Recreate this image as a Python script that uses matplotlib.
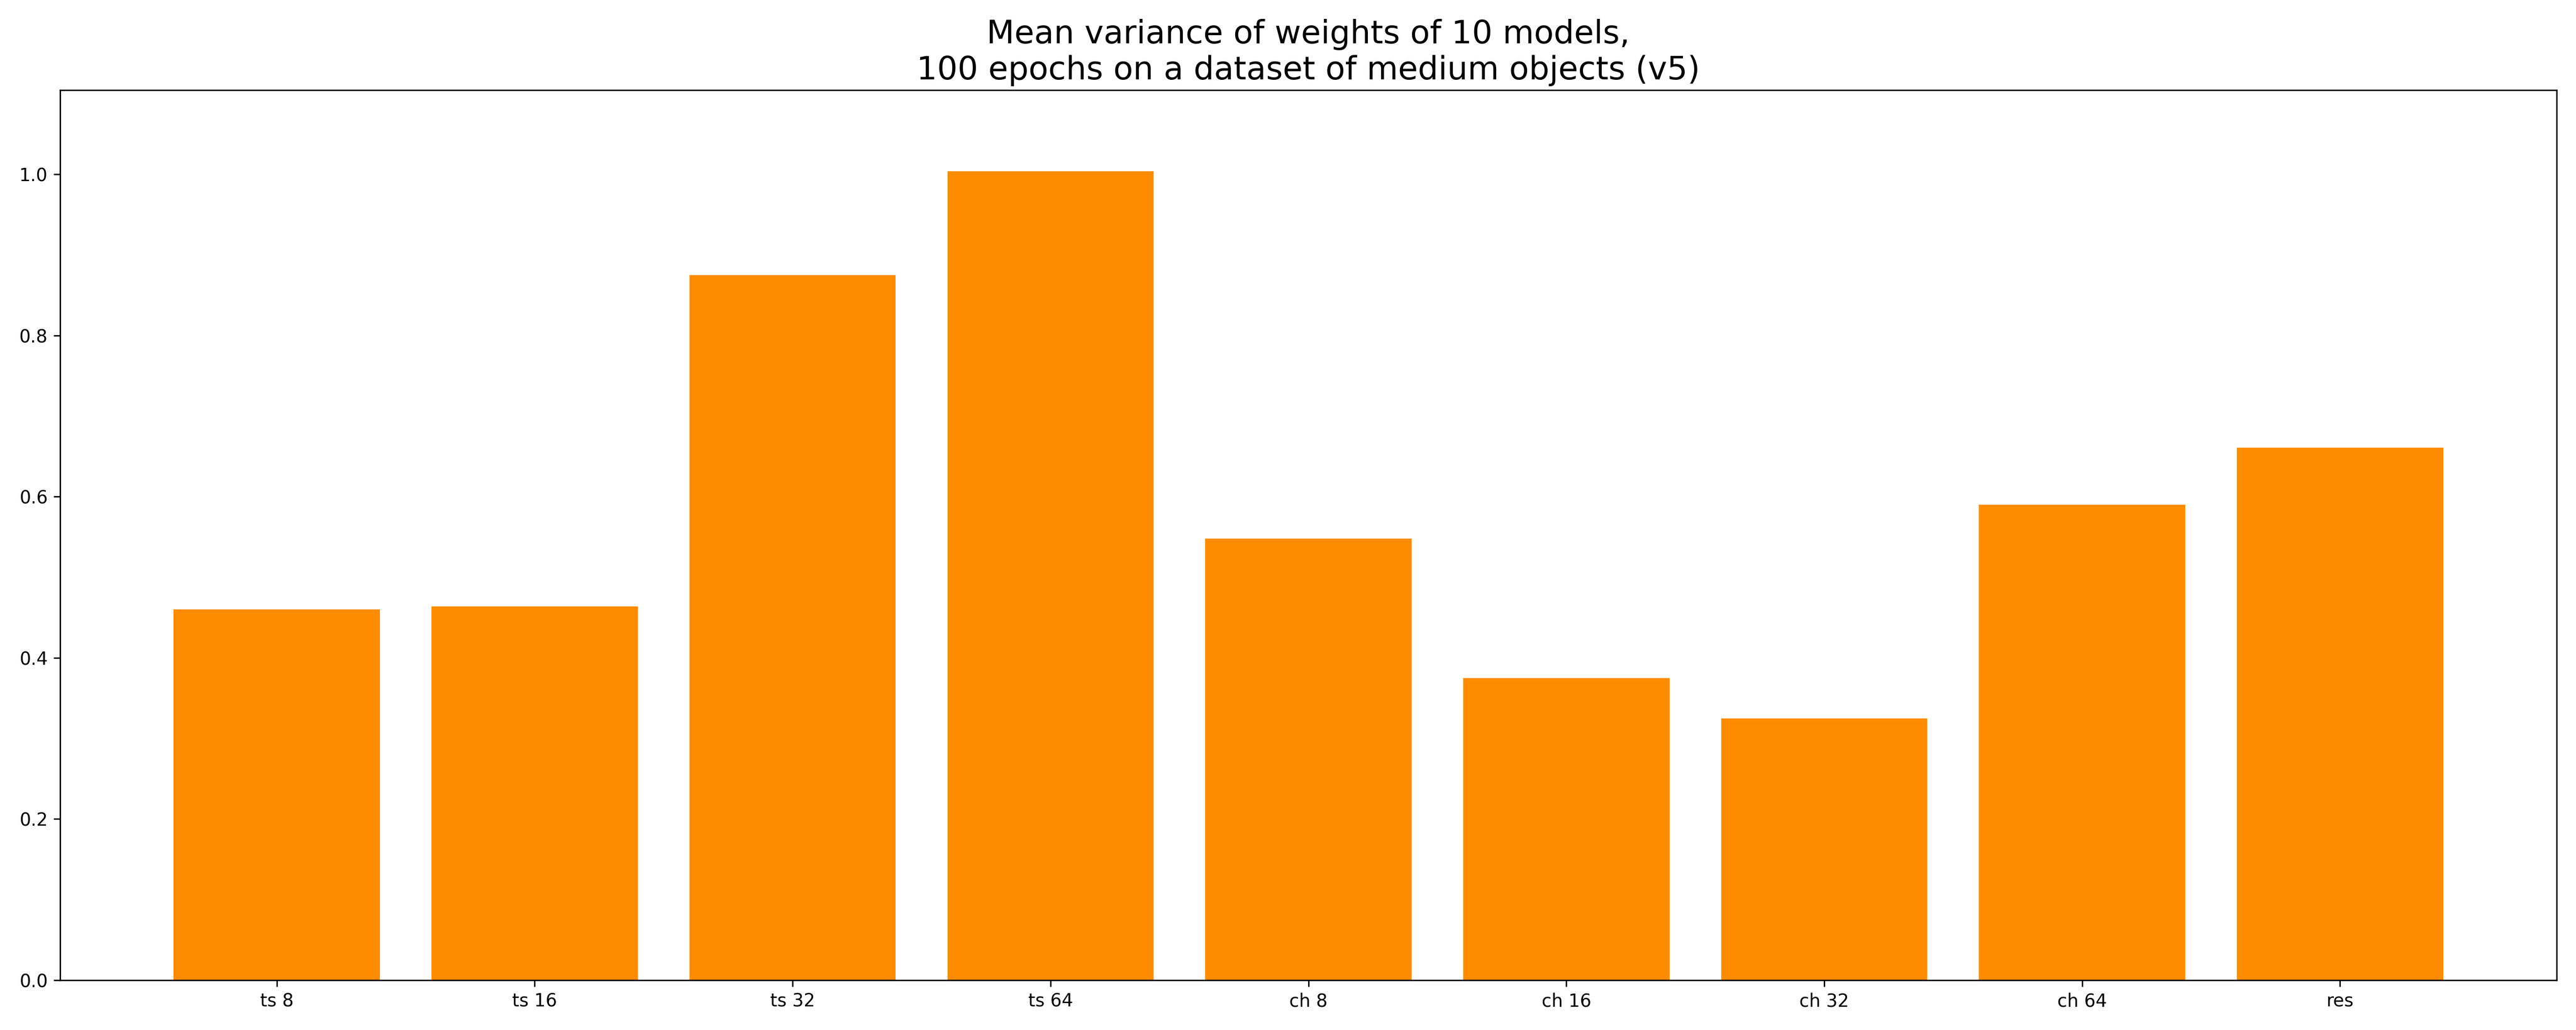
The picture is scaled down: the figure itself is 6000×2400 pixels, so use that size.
import matplotlib
matplotlib.use("Agg")
import matplotlib.pyplot as plt

# mean weight variance per configuration
labels = ["ts 8", "ts 16", "ts 32", "ts 64", "ch 8", "ch 16", "ch 32", "ch 64", "res"]
variances = [0.460, 0.464, 0.875, 1.004, 0.548, 0.375, 0.325, 0.590, 0.661]

fig, ax = plt.subplots(figsize=(20, 8))
ax.bar(labels, variances, color="darkorange")
ax.set_ylim(0, max(variances) * 1.1)
ax.set_title("Mean variance of weights of 10 models,\n"
             "100 epochs on a dataset of medium objects (v5)", fontsize=18)

plt.tight_layout()
plt.savefig("out.png", dpi=300)
